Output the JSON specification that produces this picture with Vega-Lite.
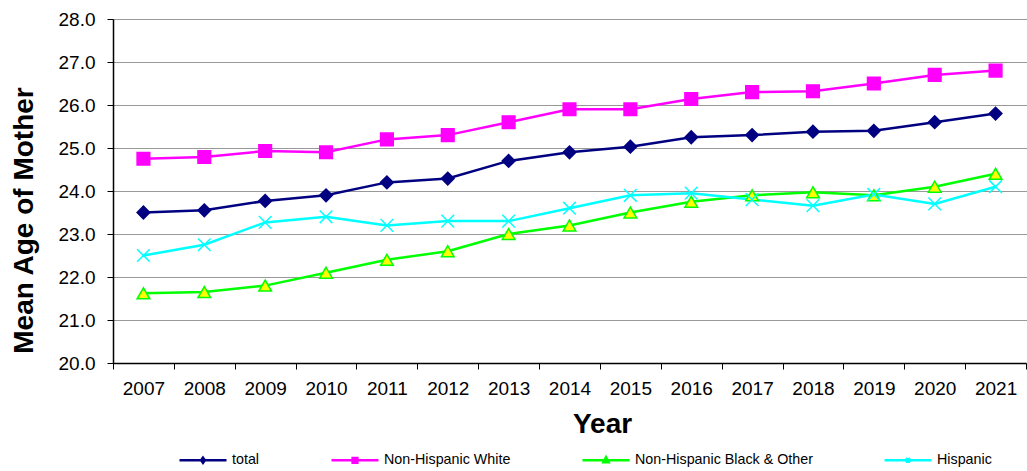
{
  "$schema": "https://vega.github.io/schema/vega-lite/v6.json",
  "autosize": {"type": "none"},
  "width": 913,
  "height": 344,
  "padding": {"left": 113, "top": 19, "right": 1, "bottom": 108},
  "background": "white",
  "config": {
    "font": "Liberation Sans",
    "view": {"stroke": null},
    "axis": {"labelColor": "black", "titleColor": "black", "domainColor": "black", "tickColor": "black", "labelFont": "Liberation Sans", "titleFont": "Liberation Sans"},
    "legend": {
      "title": null, "orient": "none", "legendX": 65, "legendY": 416,
      "direction": "horizontal", "padding": 0,
      "symbolSize": 2209, "symbolStrokeWidth": 2.5, "symbolOpacity": 1,
      "labelFontSize": 14.3, "labelFont": "Liberation Sans", "labelColor": "black", "labelOffset": 4,
      "columnPadding": 66, "labelLimit": 400
    }
  },
  "data": {
    "values": [
      {"year": "2007", "series": "total", "age": 23.5},
      {"year": "2008", "series": "total", "age": 23.55},
      {"year": "2009", "series": "total", "age": 23.77},
      {"year": "2010", "series": "total", "age": 23.9},
      {"year": "2011", "series": "total", "age": 24.2},
      {"year": "2012", "series": "total", "age": 24.29},
      {"year": "2013", "series": "total", "age": 24.7},
      {"year": "2014", "series": "total", "age": 24.9},
      {"year": "2015", "series": "total", "age": 25.03},
      {"year": "2016", "series": "total", "age": 25.25},
      {"year": "2017", "series": "total", "age": 25.3},
      {"year": "2018", "series": "total", "age": 25.38},
      {"year": "2019", "series": "total", "age": 25.4},
      {"year": "2020", "series": "total", "age": 25.6},
      {"year": "2021", "series": "total", "age": 25.8},
      {"year": "2007", "series": "Non-Hispanic White", "age": 24.75},
      {"year": "2008", "series": "Non-Hispanic White", "age": 24.79},
      {"year": "2009", "series": "Non-Hispanic White", "age": 24.93},
      {"year": "2010", "series": "Non-Hispanic White", "age": 24.9},
      {"year": "2011", "series": "Non-Hispanic White", "age": 25.2},
      {"year": "2012", "series": "Non-Hispanic White", "age": 25.3},
      {"year": "2013", "series": "Non-Hispanic White", "age": 25.6},
      {"year": "2014", "series": "Non-Hispanic White", "age": 25.9},
      {"year": "2015", "series": "Non-Hispanic White", "age": 25.9},
      {"year": "2016", "series": "Non-Hispanic White", "age": 26.14},
      {"year": "2017", "series": "Non-Hispanic White", "age": 26.3},
      {"year": "2018", "series": "Non-Hispanic White", "age": 26.32},
      {"year": "2019", "series": "Non-Hispanic White", "age": 26.5},
      {"year": "2020", "series": "Non-Hispanic White", "age": 26.7},
      {"year": "2021", "series": "Non-Hispanic White", "age": 26.8},
      {"year": "2007", "series": "Non-Hispanic Black & Other", "age": 21.62},
      {"year": "2008", "series": "Non-Hispanic Black & Other", "age": 21.65},
      {"year": "2009", "series": "Non-Hispanic Black & Other", "age": 21.8},
      {"year": "2010", "series": "Non-Hispanic Black & Other", "age": 22.1},
      {"year": "2011", "series": "Non-Hispanic Black & Other", "age": 22.4},
      {"year": "2012", "series": "Non-Hispanic Black & Other", "age": 22.6},
      {"year": "2013", "series": "Non-Hispanic Black & Other", "age": 23.0},
      {"year": "2014", "series": "Non-Hispanic Black & Other", "age": 23.2},
      {"year": "2015", "series": "Non-Hispanic Black & Other", "age": 23.5},
      {"year": "2016", "series": "Non-Hispanic Black & Other", "age": 23.75},
      {"year": "2017", "series": "Non-Hispanic Black & Other", "age": 23.9},
      {"year": "2018", "series": "Non-Hispanic Black & Other", "age": 23.97},
      {"year": "2019", "series": "Non-Hispanic Black & Other", "age": 23.9},
      {"year": "2020", "series": "Non-Hispanic Black & Other", "age": 24.1},
      {"year": "2021", "series": "Non-Hispanic Black & Other", "age": 24.4},
      {"year": "2007", "series": "Hispanic", "age": 22.5},
      {"year": "2008", "series": "Hispanic", "age": 22.75},
      {"year": "2009", "series": "Hispanic", "age": 23.27},
      {"year": "2010", "series": "Hispanic", "age": 23.4},
      {"year": "2011", "series": "Hispanic", "age": 23.2},
      {"year": "2012", "series": "Hispanic", "age": 23.3},
      {"year": "2013", "series": "Hispanic", "age": 23.3},
      {"year": "2014", "series": "Hispanic", "age": 23.6},
      {"year": "2015", "series": "Hispanic", "age": 23.9},
      {"year": "2016", "series": "Hispanic", "age": 23.95},
      {"year": "2017", "series": "Hispanic", "age": 23.8},
      {"year": "2018", "series": "Hispanic", "age": 23.66},
      {"year": "2019", "series": "Hispanic", "age": 23.92},
      {"year": "2020", "series": "Hispanic", "age": 23.7},
      {"year": "2021", "series": "Hispanic", "age": 24.1}
    ]
  },
  "encoding": {
    "x": {
      "field": "year", "type": "ordinal",
      "scale": {"type": "band", "paddingInner": 0, "paddingOuter": 0},
      "axis": {
        "title": "Year", "titleFontSize": 28, "titleFontWeight": "bold",
        "titleX": 489, "titleY": 69, "titleBaseline": "alphabetic", "titleAlign": "center",
        "labelAngle": 0, "labelFontSize": 19, "labelPadding": 10,
        "tickBand": "extent", "tickSize": 6, "domainWidth": 1.5, "grid": false
      }
    },
    "y": {
      "field": "age", "type": "quantitative",
      "scale": {"domain": [20, 28], "nice": false, "zero": false},
      "axis": {
        "title": "Mean Age of Mother", "titleFontSize": 28, "titleFontWeight": "bold",
        "titleX": -81, "titleY": 201, "titleBaseline": "alphabetic", "titleAlign": "center", "titleAngle": -90,
        "values": [20, 21, 22, 23, 24, 25, 26, 27, 28], "format": ".1f",
        "labelFontSize": 19, "labelPadding": 12, "tickSize": 6, "domainWidth": 1.5,
        "grid": true, "gridColor": "#333333", "gridDash": [1, 1], "gridWidth": 1
      }
    }
  },
  "layer": [
    {
      "mark": {"type": "line", "strokeWidth": 2.5},
      "encoding": {
        "color": {
          "field": "series", "type": "nominal",
          "scale": {"domain": ["total", "Non-Hispanic White", "Non-Hispanic Black & Other", "Hispanic"], "range": ["#000080", "#FF00FF", "#00FF00", "#00FFFF"]},
          "legend": null
        }
      }
    },
    {
      "mark": {"type": "point", "filled": false, "opacity": 1, "strokeWidth": 1.5, "size": 160},
      "encoding": {
        "shape": {
          "field": "series", "type": "nominal",
          "scale": {"domain": ["total", "Non-Hispanic White", "Non-Hispanic Black & Other", "Hispanic"], "range": ["diamond", "square", "triangle-up", "M-1,-1L1,1M-1,1L1,-1"]},
          "legend": null
        },
        "fill": {
          "field": "series", "type": "nominal",
          "scale": {"domain": ["total", "Non-Hispanic White", "Non-Hispanic Black & Other", "Hispanic"], "range": ["#000080", "#FF00FF", "#FFFF00", "transparent"]},
          "legend": null
        },
        "stroke": {
          "field": "series", "type": "nominal",
          "scale": {"domain": ["total", "Non-Hispanic White", "Non-Hispanic Black & Other", "Hispanic"], "range": ["#000080", "#FF00FF", "#00FF00", "#00FFFF"]},
          "legend": null
        }
      }
    },
    {
      "mark": {"type": "point", "opacity": 0},
      "encoding": {
        "shape": {
          "field": "series", "type": "nominal",
          "scale": {"domain": ["total", "Non-Hispanic White", "Non-Hispanic Black & Other", "Hispanic"], "range": [
            "M-1,0H1M0,-0.11L0.08,0L0,0.11L-0.08,0Z",
            "M-1,0H1M-0.1,-0.1H0.1V0.1H-0.1Z",
            "M-1,0H1M0,-0.13L0.11,0.08H-0.11Z",
            "M-1,0H1M-0.09,-0.09L0.09,0.09M-0.09,0.09L0.09,-0.09"
          ]},
          "legend": {}
        },
        "fill": {
          "field": "series", "type": "nominal",
          "scale": {"domain": ["total", "Non-Hispanic White", "Non-Hispanic Black & Other", "Hispanic"], "range": ["#000080", "#FF00FF", "#FFFF00", "transparent"]},
          "legend": {}
        },
        "stroke": {
          "field": "series", "type": "nominal",
          "scale": {"domain": ["total", "Non-Hispanic White", "Non-Hispanic Black & Other", "Hispanic"], "range": ["#000080", "#FF00FF", "#00FF00", "#00FFFF"]},
          "legend": {}
        }
      }
    }
  ],
  "resolve": {
    "scale": {"shape": "independent", "fill": "independent", "stroke": "independent"},
    "legend": {"shape": "independent", "fill": "independent", "stroke": "independent"}
  }
}
